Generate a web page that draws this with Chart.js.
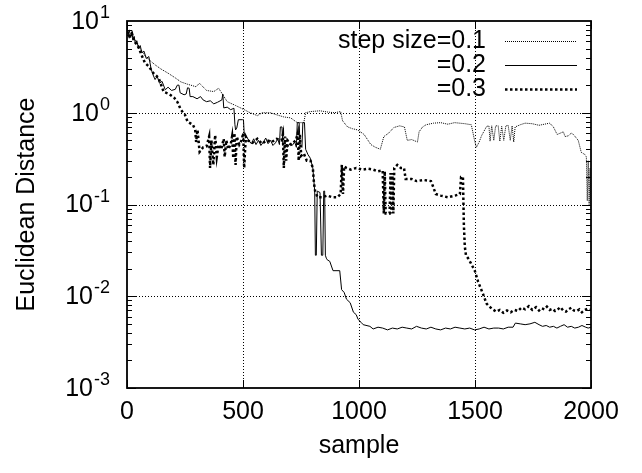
<!DOCTYPE html>
<html>
<head>
<meta charset="utf-8">
<script src="https://cdn.jsdelivr.net/npm/chart.js@4.4.0/dist/chart.umd.min.js"></script>
<style>
  html, body { margin: 0; padding: 0; background: #fff; }
  #wrap { width: 642px; height: 473px; }
</style>
</head>
<body>
<div id="wrap"><canvas id="chart" width="642" height="473"></canvas></div>
<script>
const FONT = "'Liberation Sans', Arial, Helvetica, sans-serif";

// axis ticks
const xTicks = [0, 500, 1000, 1500, 2000];
const yExponents = [1, 0, -1, -2, -3];
const legendLabels = ['step size=0.1', '=0.2', '=0.3'];

// step size = 0.1 (thin dotted)
const samples01 = [0, 10, 21, 31, 42, 52, 62, 77, 94, 121, 146, 177, 208, 232, 260, 298, 312, 343, 374, 395,
  432, 468, 505, 531, 562, 582, 618, 645, 676, 705, 734, 762, 770, 791, 832, 863, 894, 921, 929, 941,
  951, 972, 994, 1022, 1051, 1071, 1092, 1107, 1128, 1150, 1175, 1196, 1208, 1227, 1252, 1259, 1274, 1289, 1321, 1352,
  1383, 1412, 1456, 1484, 1498, 1506, 1518, 1528, 1550, 1560, 1565, 1572, 1581, 1589, 1600, 1607, 1615, 1624, 1633, 1643,
  1652, 1660, 1667, 1673, 1695, 1716, 1746, 1776, 1799, 1822, 1838, 1854, 1868, 1881, 1888, 1902, 1915, 1924, 1945, 1958,
  1966, 1974, 1980, 1984, 1988, 1992, 1996, 2000];
const dist01 = [7.8, 7.0, 7.6, 6.3, 6.0, 5.2, 4.8, 4.2, 3.8, 3.33, 3.0, 2.7, 2.4, 2.17, 2.05, 1.92, 2.1, 1.75, 1.7, 1.85,
  1.32, 1.2, 1.08, 1.0, 0.93, 1.0, 1.0, 0.95, 0.9, 0.88, 0.78, 0.78, 1.0, 1.03, 1.05, 1.02, 1.0, 1.03, 0.82, 0.75,
  0.7, 0.67, 0.65, 0.58, 0.45, 0.42, 0.40, 0.55, 0.6, 0.69, 0.72, 0.70, 0.50, 0.51, 0.48, 0.62, 0.7, 0.74, 0.77, 0.78,
  0.75, 0.78, 0.76, 0.74, 0.5, 0.42, 0.48, 0.56, 0.71, 0.72, 0.49, 0.72, 0.5, 0.72, 0.72, 0.49, 0.71, 0.5, 0.72, 0.73,
  0.5, 0.72, 0.48, 0.7, 0.74, 0.77, 0.76, 0.73, 0.75, 0.77, 0.7, 0.58, 0.6, 0.62, 0.55, 0.56, 0.6, 0.58, 0.5, 0.37,
  0.36, 0.35, 0.33, 0.11, 0.3, 0.1, 0.25, 0.09];

// step size = 0.2 (solid)
const samples02 = [0, 5, 10, 16, 21, 26, 31, 36, 42, 50, 57, 64, 73, 83, 94, 104, 112, 121, 130, 140,
  151, 165, 177, 192, 208, 217, 224, 229, 246, 255, 261, 268, 272, 284, 302, 317, 328, 343, 359, 374,
  390, 409, 413, 417, 432, 447, 461, 465, 468, 473, 480, 498, 502, 505, 515, 525, 536, 546, 556, 567,
  577, 588, 598, 608, 619, 629, 640, 650, 657, 661, 668, 672, 681, 692, 702, 712, 723, 730, 734, 742,
  746, 754, 758, 765, 770, 780, 790, 801, 809, 812, 816, 820, 832, 838, 844, 848, 852, 855, 859, 863,
  874, 888, 917, 925, 936, 946, 962, 976, 988, 996, 1009, 1018, 1047, 1061, 1082, 1102, 1123, 1144, 1165, 1186,
  1206, 1227, 1248, 1269, 1290, 1310, 1331, 1352, 1373, 1394, 1414, 1435, 1456, 1477, 1498, 1518, 1539, 1560, 1581, 1602,
  1622, 1643, 1664, 1674, 1695, 1716, 1737, 1758, 1776, 1791, 1807, 1822, 1838, 1853, 1868, 1884, 1899, 1915, 1930, 1946,
  1961, 1977, 1988, 2000];
const dist02 = [8.3, 7.0, 8.0, 6.6, 7.5, 6.2, 6.8, 5.6, 6.1, 5.0, 5.4, 4.5, 4.7, 3.9, 4.1, 3.0, 2.6, 2.3, 2.5, 2.1,
  2.2, 1.78, 1.9, 1.75, 1.8, 2.0, 2.0, 1.65, 1.57, 1.6, 1.87, 1.85, 1.5, 1.5, 1.42, 1.5, 1.38, 1.32, 1.35, 1.25,
  1.3, 1.38, 1.6, 1.13, 1.15, 1.08, 1.12, 0.75, 0.65, 0.68, 0.84, 0.84, 0.84, 0.6, 0.55, 0.5, 0.46, 0.52, 0.45, 0.5,
  0.44, 0.48, 0.53, 0.46, 0.5, 0.44, 0.47, 0.52, 0.45, 0.7, 0.7, 0.44, 0.47, 0.42, 0.46, 0.44, 0.48, 0.42, 0.78, 0.78,
  0.44, 0.42, 0.78, 0.78, 0.4, 0.35, 0.32, 0.25, 0.14, 0.028, 0.028, 0.14, 0.135, 0.028, 0.028, 0.14, 0.14, 0.028, 0.026, 0.025,
  0.024, 0.019, 0.019, 0.0118, 0.011, 0.0093, 0.0085, 0.0067, 0.0063, 0.0056, 0.0052, 0.0049, 0.0047, 0.0044, 0.0046, 0.0045, 0.0043, 0.0045, 0.0044, 0.0046,
  0.0045, 0.0044, 0.0047, 0.0045, 0.0044, 0.0046, 0.0044, 0.0043, 0.0045, 0.0044, 0.0046, 0.0045, 0.0044, 0.0045, 0.0043, 0.0044, 0.0046, 0.0044, 0.0045, 0.0045,
  0.0044, 0.0046, 0.0046, 0.0051, 0.005, 0.0049, 0.005, 0.0052, 0.0049, 0.0047, 0.0048, 0.0046, 0.0047, 0.0045, 0.0047, 0.0049, 0.0046, 0.0047, 0.0045, 0.0046,
  0.0048, 0.0046, 0.0045, 0.0046];

// step size = 0.3 (thick dotted)
const samples03 = [0, 10, 21, 31, 42, 52, 62, 77, 94, 114, 136, 158, 182, 203, 218, 232, 250, 261, 284, 294,
  298, 304, 313, 328, 343, 354, 358, 364, 372, 380, 387, 395, 406, 417, 421, 428, 437, 447, 453, 458,
  463, 468, 473, 484, 494, 501, 505, 512, 520, 541, 562, 582, 603, 624, 645, 666, 672, 676, 681, 686,
  692, 707, 728, 736, 740, 745, 751, 762, 775, 791, 801, 806, 811, 821, 842, 863, 884, 907, 921, 926,
  931, 936, 946, 965, 988, 1014, 1040, 1061, 1081, 1102, 1107, 1111, 1115, 1132, 1136, 1140, 1144, 1148, 1152, 1165,
  1180, 1194, 1201, 1227, 1248, 1279, 1310, 1318, 1331, 1352, 1383, 1414, 1435, 1440, 1448, 1452, 1456, 1461, 1470, 1482,
  1499, 1513, 1535, 1550, 1560, 1576, 1591, 1607, 1622, 1638, 1654, 1669, 1685, 1700, 1716, 1732, 1747, 1763, 1776, 1787,
  1799, 1810, 1822, 1834, 1845, 1857, 1868, 1880, 1892, 1903, 1915, 1926, 1938, 1950, 1961, 1973, 1984, 2000];
const dist03 = [7.8, 6.8, 7.4, 6.0, 5.6, 5.0, 4.3, 3.5, 3.2, 2.7, 2.4, 1.69, 1.6, 1.46, 1.3, 1.08, 0.95, 0.8, 0.74, 0.65,
  0.48, 0.65, 0.375, 0.42, 0.43, 0.55, 0.25, 0.5, 0.27, 0.57, 0.33, 0.45, 0.4, 0.52, 0.33, 0.5, 0.4, 0.45, 0.55, 0.32,
  0.6, 0.27, 0.55, 0.45, 0.5, 0.6, 0.25, 0.55, 0.5, 0.47, 0.52, 0.46, 0.5, 0.48, 0.52, 0.5, 0.58, 0.25, 0.55, 0.3,
  0.5, 0.45, 0.5, 0.6, 0.3, 0.58, 0.34, 0.36, 0.3, 0.3, 0.25, 0.17, 0.14, 0.12, 0.12, 0.125, 0.12, 0.12, 0.13, 0.27,
  0.13, 0.26, 0.25, 0.24, 0.25, 0.24, 0.245, 0.24, 0.23, 0.235, 0.08, 0.23, 0.08, 0.08, 0.22, 0.08, 0.22, 0.08, 0.25, 0.27,
  0.25, 0.25, 0.19, 0.19, 0.18, 0.185, 0.18, 0.16, 0.13, 0.125, 0.12, 0.125, 0.13, 0.2, 0.2, 0.06, 0.035, 0.028, 0.026, 0.023,
  0.019, 0.0145, 0.0105, 0.0083, 0.0078, 0.0072, 0.0068, 0.0071, 0.0066, 0.007, 0.0067, 0.0071, 0.0069, 0.0075, 0.0072, 0.0078, 0.0071, 0.0076, 0.007, 0.0074,
  0.0072, 0.0077, 0.0071, 0.0073, 0.0069, 0.0072, 0.0076, 0.007, 0.0068, 0.0072, 0.0075, 0.007, 0.0069, 0.0072, 0.0067, 0.0071, 0.0073, 0.0071];

const toPoints = (xs, ys) => xs.map((x, i) => ({x: x, y: ys[i]}));

const series = [
  {label: legendLabels[0], data: toPoints(samples01, dist01), borderWidth: 1, borderDash: [1, 1]},
  {label: legendLabels[1], data: toPoints(samples02, dist02), borderWidth: 1, borderDash: []},
  {label: legendLabels[2], data: toPoints(samples03, dist03), borderWidth: 2.5, borderDash: [2.5, 2.5]},
];

// frame, dotted grid, inner ticks, y labels with exponents, legend
const framePlugin = {
  id: 'frame',
  beforeDatasetsDraw(chart) {
    const {ctx, chartArea: a, scales: {x, y}} = chart;
    ctx.save();
    ctx.strokeStyle = '#000';
    ctx.lineWidth = 1;
    ctx.setLineDash([1, 2]);
    ctx.beginPath();
    xTicks.slice(1, -1).forEach(v => {
      const px = Math.round(x.getPixelForValue(v)) + 0.5;
      ctx.moveTo(px, a.top); ctx.lineTo(px, a.bottom);
    });
    yExponents.slice(1, -1).forEach(e => {
      const py = Math.round(y.getPixelForValue(Math.pow(10, e))) + 0.5;
      ctx.moveTo(a.left, py); ctx.lineTo(a.right, py);
    });
    ctx.stroke();
    ctx.restore();
  },
  afterDatasetsDraw(chart) {
    const {ctx, chartArea: a, scales: {x, y}} = chart;
    ctx.save();
    ctx.strokeStyle = '#000';
    ctx.setLineDash([]);

    // inner ticks
    ctx.lineWidth = 1;
    ctx.beginPath();
    xTicks.forEach(v => {
      const px = Math.round(x.getPixelForValue(v)) + 0.5;
      ctx.moveTo(px, a.bottom); ctx.lineTo(px, a.bottom - 8);
      ctx.moveTo(px, a.top); ctx.lineTo(px, a.top + 8);
    });
    for (let e = -3; e <= 0; e++) {
      for (let m = 1; m <= 9; m++) {
        const py = Math.round(y.getPixelForValue(m * Math.pow(10, e))) + 0.5;
        const len = m === 1 ? 9 : 5;
        ctx.moveTo(a.left, py); ctx.lineTo(a.left + len, py);
        ctx.moveTo(a.right, py); ctx.lineTo(a.right - len, py);
      }
    }
    ctx.stroke();

    // frame
    ctx.lineWidth = 1.8;
    ctx.strokeRect(a.left, a.top, a.right - a.left, a.bottom - a.top);

    // y tick labels 10^n
    ctx.fillStyle = '#000';
    ctx.textAlign = 'right';
    yExponents.forEach(e => {
      const py = y.getPixelForValue(Math.pow(10, e));
      ctx.font = '18px ' + FONT;
      ctx.textBaseline = 'alphabetic';
      const exp = String(e);
      const ew = ctx.measureText(exp).width;
      ctx.fillText(exp, 110, py - 3);
      ctx.font = '25px ' + FONT;
      ctx.textBaseline = 'middle';
      ctx.fillText('10', 109 - ew, py + 1);
    });

    // legend: text then line sample
    ctx.font = '25px ' + FONT;
    ctx.textBaseline = 'middle';
    const rows = [41, 65, 89];
    chart.data.datasets.forEach((ds, i) => {
      ctx.fillText(ds.label, 486, rows[i]);
      ctx.lineWidth = ds.borderWidth;
      ctx.setLineDash(ds.borderDash);
      ctx.beginPath();
      ctx.moveTo(505, rows[i] + 0.5);
      ctx.lineTo(577, rows[i] + 0.5);
      ctx.stroke();
    });
    ctx.restore();
  }
};

new Chart(document.getElementById('chart'), {
  type: 'line',
  data: {
    datasets: series.map(s => ({
      label: s.label,
      data: s.data,
      borderColor: '#000',
      borderWidth: s.borderWidth,
      borderDash: s.borderDash,
      pointRadius: 0,
      tension: 0,
      fill: false,
    }))
  },
  options: {
    responsive: false,
    animation: false,
    events: [],
    layout: {padding: {top: 21, right: 51, left: 0, bottom: 0}},
    plugins: {legend: {display: false}, tooltip: {enabled: false}},
    scales: {
      x: {
        type: 'linear',
        min: 0,
        max: 2000,
        afterBuildTicks: scale => { scale.ticks = xTicks.map(v => ({value: v})); },
        afterFit: scale => { scale.height = 85; },
        grid: {display: false, drawTicks: false},
        border: {display: false},
        ticks: {color: '#000', font: {family: FONT, size: 25}, padding: 9, maxRotation: 0, callback: v => String(v)},
        title: {display: true, text: 'sample', color: '#000', font: {family: FONT, size: 25}, padding: {top: 0, bottom: 12}},
      },
      y: {
        type: 'logarithmic',
        min: 0.001,
        max: 10,
        afterFit: scale => { scale.width = 127; },
        grid: {display: false, drawTicks: false},
        border: {display: false},
        ticks: {display: false},
        title: {display: true, text: 'Euclidean Distance', color: '#000', font: {family: FONT, size: 25}, padding: {top: 12, bottom: 0}},
      }
    }
  },
  plugins: [framePlugin]
});
</script>
</body>
</html>
